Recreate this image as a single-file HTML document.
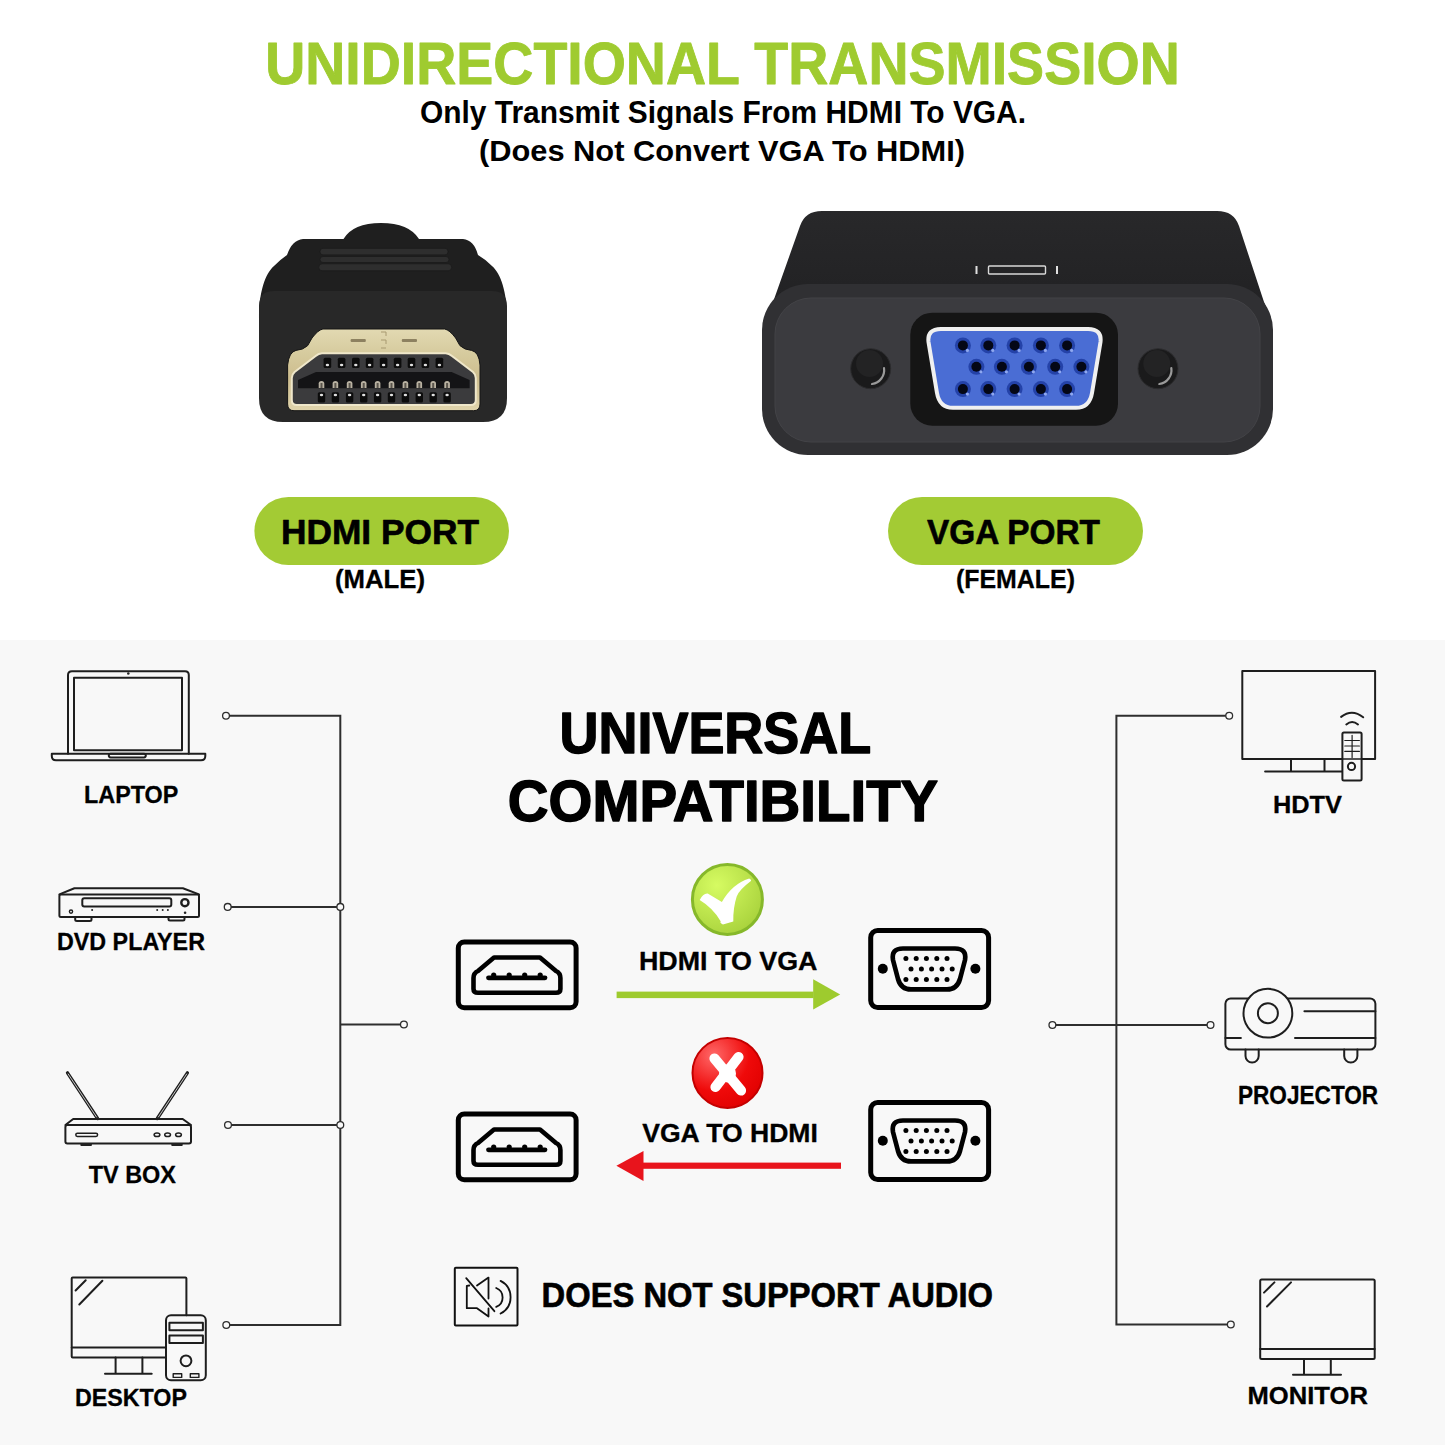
<!DOCTYPE html>
<html><head><meta charset="utf-8"><style>
html,body{margin:0;padding:0;background:#fff;}
svg{display:block;}
text{font-family:"Liberation Sans",sans-serif;font-weight:bold;}
</style></head><body>
<svg width="1445" height="1445" viewBox="0 0 1445 1445">
<defs>
  <linearGradient id="gold" x1="0" y1="0" x2="0" y2="1">
    <stop offset="0" stop-color="#e2d9b2"/>
    <stop offset="0.3" stop-color="#d6cb9e"/>
    <stop offset="0.6" stop-color="#cdbd8e"/>
    <stop offset="1" stop-color="#e0d4ac"/>
  </linearGradient>
  <linearGradient id="hdmibody" x1="0" y1="0" x2="0" y2="1">
    <stop offset="0" stop-color="#2a2a2a"/>
    <stop offset="1" stop-color="#1c1c1c"/>
  </linearGradient>
  <radialGradient id="chk" cx="0.35" cy="0.3" r="0.8">
    <stop offset="0" stop-color="#d6fb62"/>
    <stop offset="1" stop-color="#a6d03a"/>
  </radialGradient>
  <radialGradient id="xrd" cx="0.3" cy="0.25" r="0.85">
    <stop offset="0" stop-color="#ff6868"/>
    <stop offset="0.6" stop-color="#ef0a0a"/>
    <stop offset="1" stop-color="#e00000"/>
  </radialGradient>
  <linearGradient id="vgatop" x1="0" y1="0" x2="0" y2="1">
    <stop offset="0" stop-color="#28282a"/>
    <stop offset="1" stop-color="#1f1f21"/>
  </linearGradient>
</defs>
<!-- backgrounds -->
<rect x="0" y="0" width="1445" height="640" fill="#ffffff"/>
<rect x="0" y="640" width="1445" height="805" fill="#f8f8f8"/>

<!-- pills -->
<rect x="254.4" y="497" width="254.6" height="68" rx="34" fill="#a3cb34"/>
<rect x="888" y="497" width="255" height="68" rx="34" fill="#a3cb34"/>

<!-- ============ HDMI connector photo ============ -->
<g id="hdmi">
  <path d="M259,318 C259,292 265,274 274,266 Q281,259 287,255 Q292,240 303,239 L343.5,239 Q353,223 381,223 Q409,223 419,239 L463,239 Q474,240 478,255 Q485,259 492,266 C501,274 507,292 507,318 Z" fill="#1f1f1f"/>
  <rect x="320" y="248.3" width="128" height="6.6" rx="3" fill="#2e2e2e" stroke="#1a1a1a" stroke-width="0.8"/>
  <rect x="320" y="256.5" width="129" height="6" rx="3" fill="#2e2e2e" stroke="#1a1a1a" stroke-width="0.8"/>
  <rect x="318.7" y="263.8" width="133" height="7" rx="3.5" fill="#2e2e2e" stroke="#1a1a1a" stroke-width="0.8"/>
  <path d="M259,306 Q259,291 274,291 L492,291 Q507,291 507,306 L507,398 Q507,422 483,422 L283,422 Q259,422 259,398 Z" fill="#282828"/>
  <!-- gold shell -->
  <path d="M322.9,329 L444.7,329 Q449.6,330 455.6,338 L459.9,345.6 Q464.6,350 471.6,350.4 Q479,352 480,365 L480,404 Q480,410.7 473.6,410.7 L294,410.7 Q287.6,410.7 287.6,404 L287.6,365 Q289,352 296,350.4 Q303,350 307.7,345.6 L312,338 Q318,330 322.9,329 Z" fill="url(#gold)" stroke="#151515" stroke-width="1"/>
  <path d="M322,353.2 L445.6,353.2 Q449,353.2 452,356 L473,372 Q475.8,374.5 475.8,378 L475.8,400 Q475.8,405 470.8,405 L296.8,405 Q291.8,405 291.8,400 L291.8,378 Q291.8,374.5 294.6,372 L315.6,356 Q318.6,353.2 322,353.2 Z" fill="#3b3b3d" stroke="#efe7ca" stroke-width="2"/>
  <path d="M298,388.2 L298,380 L316,372 L451.6,372 L469.6,380 L469.6,388.2 Z" fill="#141416"/>
  <rect x="350.6" y="338.9" width="15.2" height="3.2" rx="1" fill="#8d8160"/>
  <rect x="401.8" y="338.9" width="15.2" height="3.2" rx="1" fill="#8d8160"/>
  <path d="M381,332 L386,332 L386,336 M381,340 L386,340 L386,344 M381,348 L386,348" fill="none" stroke="#a89a70" stroke-width="1"/>
  <g id="pinsTop" fill="#161616"></g>
</g>

<!-- ============ VGA adapter photo ============ -->
<g id="vga">
  <path d="M763,345 Q764,318 772,305 L800,226 Q805,211 822,211 L1217,211 Q1234,211 1239,226 L1264,302 Q1272,318 1273,345 Z" fill="url(#vgatop)"/>
  <rect x="762" y="284" width="511" height="171" rx="46" fill="#303033"/>
  <rect x="775" y="298" width="485" height="144" rx="36" fill="#3b3b3f" stroke="#434347" stroke-width="1"/>
  <!-- top small port -->
  <rect x="988.5" y="266" width="57" height="8" rx="1" fill="none" stroke="#d8d8d8" stroke-width="1.4"/>
  <rect x="975.5" y="266" width="2" height="8" fill="#e0e0e0"/>
  <rect x="1056" y="266" width="2" height="8" fill="#e0e0e0"/>
  <!-- recess -->
  <rect x="910.3" y="312.7" width="207.7" height="113" rx="22" fill="#151515"/>
  <path d="M941,329 L1088,329 Q1102,329 1100.5,342 L1092,393 Q1089.5,407.8 1076,407.8 L953,407.8 Q939.5,407.8 937,393 L928.5,342 Q927,329 941,329 Z" fill="#4a6dd4" stroke="#f0f0f0" stroke-width="4"/>
  <g id="vgapins"></g>
  <!-- screws -->
  <circle cx="870.7" cy="368.7" r="20" fill="#1a1a1b" stroke="#2c2c2e" stroke-width="1"/>
  <path d="M884,368 A14,14 0 0 1 872,384" fill="none" stroke="#9a9a9a" stroke-width="2.2" stroke-linecap="round"/>
  <circle cx="869.5" cy="363.5" r="13.5" fill="#232324"/>
  <circle cx="1158" cy="368.7" r="20" fill="#1a1a1b" stroke="#2c2c2e" stroke-width="1"/>
  <path d="M1171.3,368 A14,14 0 0 1 1159.3,384" fill="none" stroke="#9a9a9a" stroke-width="2.2" stroke-linecap="round"/>
  <circle cx="1156.8" cy="363.5" r="13.5" fill="#232324"/>
</g>

<rect x="323.6" y="357.7" width="7.6" height="10.4" rx="1.5" fill="#0c0c0c"/>
<ellipse cx="327.4" cy="365" rx="1.7" ry="1.2" fill="#e0e0e0"/>
<rect x="337.8" y="357.7" width="7.6" height="10.4" rx="1.5" fill="#0c0c0c"/>
<ellipse cx="341.6" cy="365" rx="1.7" ry="1.2" fill="#e0e0e0"/>
<rect x="352.0" y="357.7" width="7.6" height="10.4" rx="1.5" fill="#0c0c0c"/>
<ellipse cx="355.8" cy="365" rx="1.7" ry="1.2" fill="#e0e0e0"/>
<rect x="365.8" y="357.7" width="7.6" height="10.4" rx="1.5" fill="#0c0c0c"/>
<ellipse cx="369.6" cy="365" rx="1.7" ry="1.2" fill="#e0e0e0"/>
<rect x="379.8" y="357.7" width="7.6" height="10.4" rx="1.5" fill="#0c0c0c"/>
<ellipse cx="383.6" cy="365" rx="1.7" ry="1.2" fill="#e0e0e0"/>
<rect x="393.8" y="357.7" width="7.6" height="10.4" rx="1.5" fill="#0c0c0c"/>
<ellipse cx="397.6" cy="365" rx="1.7" ry="1.2" fill="#e0e0e0"/>
<rect x="407.7" y="357.7" width="7.6" height="10.4" rx="1.5" fill="#0c0c0c"/>
<ellipse cx="411.5" cy="365" rx="1.7" ry="1.2" fill="#e0e0e0"/>
<rect x="421.6" y="357.7" width="7.6" height="10.4" rx="1.5" fill="#0c0c0c"/>
<ellipse cx="425.4" cy="365" rx="1.7" ry="1.2" fill="#e0e0e0"/>
<rect x="435.6" y="357.7" width="7.6" height="10.4" rx="1.5" fill="#0c0c0c"/>
<ellipse cx="439.4" cy="365" rx="1.7" ry="1.2" fill="#e0e0e0"/>
<path d="M318.7,388 L318.7,383.5 Q318.7,381 321.5,381 Q324.3,381 324.3,383.5 L324.3,388 Z" fill="#b9b2a2"/>
<rect x="320.5" y="383" width="2" height="5" fill="#5a554c"/>
<path d="M332.6,388 L332.6,383.5 Q332.6,381 335.4,381 Q338.2,381 338.2,383.5 L338.2,388 Z" fill="#b9b2a2"/>
<rect x="334.4" y="383" width="2" height="5" fill="#5a554c"/>
<path d="M346.8,388 L346.8,383.5 Q346.8,381 349.6,381 Q352.4,381 352.4,383.5 L352.4,388 Z" fill="#b9b2a2"/>
<rect x="348.6" y="383" width="2" height="5" fill="#5a554c"/>
<path d="M360.9,388 L360.9,383.5 Q360.9,381 363.7,381 Q366.5,381 366.5,383.5 L366.5,388 Z" fill="#b9b2a2"/>
<rect x="362.7" y="383" width="2" height="5" fill="#5a554c"/>
<path d="M374.8,388 L374.8,383.5 Q374.8,381 377.6,381 Q380.4,381 380.4,383.5 L380.4,388 Z" fill="#b9b2a2"/>
<rect x="376.6" y="383" width="2" height="5" fill="#5a554c"/>
<path d="M388.7,388 L388.7,383.5 Q388.7,381 391.5,381 Q394.3,381 394.3,383.5 L394.3,388 Z" fill="#b9b2a2"/>
<rect x="390.5" y="383" width="2" height="5" fill="#5a554c"/>
<path d="M402.6,388 L402.6,383.5 Q402.6,381 405.4,381 Q408.2,381 408.2,383.5 L408.2,388 Z" fill="#b9b2a2"/>
<rect x="404.4" y="383" width="2" height="5" fill="#5a554c"/>
<path d="M416.5,388 L416.5,383.5 Q416.5,381 419.3,381 Q422.1,381 422.1,383.5 L422.1,388 Z" fill="#b9b2a2"/>
<rect x="418.3" y="383" width="2" height="5" fill="#5a554c"/>
<path d="M430.4,388 L430.4,383.5 Q430.4,381 433.2,381 Q436.0,381 436.0,383.5 L436.0,388 Z" fill="#b9b2a2"/>
<rect x="432.2" y="383" width="2" height="5" fill="#5a554c"/>
<path d="M444.3,388 L444.3,383.5 Q444.3,381 447.1,381 Q449.9,381 449.9,383.5 L449.9,388 Z" fill="#b9b2a2"/>
<rect x="446.1" y="383" width="2" height="5" fill="#5a554c"/>
<rect x="317.8" y="392.3" width="7.4" height="10.1" rx="1.5" fill="#0c0c0c"/>
<ellipse cx="321.5" cy="395" rx="1.7" ry="1.2" fill="#e0e0e0"/>
<rect x="331.7" y="392.3" width="7.4" height="10.1" rx="1.5" fill="#0c0c0c"/>
<ellipse cx="335.4" cy="395" rx="1.7" ry="1.2" fill="#e0e0e0"/>
<rect x="345.9" y="392.3" width="7.4" height="10.1" rx="1.5" fill="#0c0c0c"/>
<ellipse cx="349.6" cy="395" rx="1.7" ry="1.2" fill="#e0e0e0"/>
<rect x="360.0" y="392.3" width="7.4" height="10.1" rx="1.5" fill="#0c0c0c"/>
<ellipse cx="363.7" cy="395" rx="1.7" ry="1.2" fill="#e0e0e0"/>
<rect x="373.9" y="392.3" width="7.4" height="10.1" rx="1.5" fill="#0c0c0c"/>
<ellipse cx="377.6" cy="395" rx="1.7" ry="1.2" fill="#e0e0e0"/>
<rect x="387.8" y="392.3" width="7.4" height="10.1" rx="1.5" fill="#0c0c0c"/>
<ellipse cx="391.5" cy="395" rx="1.7" ry="1.2" fill="#e0e0e0"/>
<rect x="401.7" y="392.3" width="7.4" height="10.1" rx="1.5" fill="#0c0c0c"/>
<ellipse cx="405.4" cy="395" rx="1.7" ry="1.2" fill="#e0e0e0"/>
<rect x="415.6" y="392.3" width="7.4" height="10.1" rx="1.5" fill="#0c0c0c"/>
<ellipse cx="419.3" cy="395" rx="1.7" ry="1.2" fill="#e0e0e0"/>
<rect x="429.5" y="392.3" width="7.4" height="10.1" rx="1.5" fill="#0c0c0c"/>
<ellipse cx="433.2" cy="395" rx="1.7" ry="1.2" fill="#e0e0e0"/>
<rect x="443.4" y="392.3" width="7.4" height="10.1" rx="1.5" fill="#0c0c0c"/>
<ellipse cx="447.1" cy="395" rx="1.7" ry="1.2" fill="#e0e0e0"/>
<circle cx="962.9" cy="345.4" r="8" fill="#2442a8"/>
<circle cx="962.9" cy="345.4" r="5" fill="#040716"/>
<circle cx="967.4" cy="350.4" r="1.6" fill="#8fa8f0"/>
<circle cx="988.3" cy="345.4" r="8" fill="#2442a8"/>
<circle cx="988.3" cy="345.4" r="5" fill="#040716"/>
<circle cx="992.8" cy="350.4" r="1.6" fill="#8fa8f0"/>
<circle cx="1014.6" cy="345.4" r="8" fill="#2442a8"/>
<circle cx="1014.6" cy="345.4" r="5" fill="#040716"/>
<circle cx="1019.1" cy="350.4" r="1.6" fill="#8fa8f0"/>
<circle cx="1040.9" cy="345.4" r="8" fill="#2442a8"/>
<circle cx="1040.9" cy="345.4" r="5" fill="#040716"/>
<circle cx="1045.4" cy="350.4" r="1.6" fill="#8fa8f0"/>
<circle cx="1067.1" cy="345.4" r="8" fill="#2442a8"/>
<circle cx="1067.1" cy="345.4" r="5" fill="#040716"/>
<circle cx="1071.6" cy="350.4" r="1.6" fill="#8fa8f0"/>
<circle cx="976.4" cy="366.8" r="8" fill="#2442a8"/>
<circle cx="976.4" cy="366.8" r="5" fill="#040716"/>
<circle cx="980.9" cy="371.8" r="1.6" fill="#8fa8f0"/>
<circle cx="1001.9" cy="366.8" r="8" fill="#2442a8"/>
<circle cx="1001.9" cy="366.8" r="5" fill="#040716"/>
<circle cx="1006.4" cy="371.8" r="1.6" fill="#8fa8f0"/>
<circle cx="1028.9" cy="366.8" r="8" fill="#2442a8"/>
<circle cx="1028.9" cy="366.8" r="5" fill="#040716"/>
<circle cx="1033.4" cy="371.8" r="1.6" fill="#8fa8f0"/>
<circle cx="1055.2" cy="366.8" r="8" fill="#2442a8"/>
<circle cx="1055.2" cy="366.8" r="5" fill="#040716"/>
<circle cx="1059.7" cy="371.8" r="1.6" fill="#8fa8f0"/>
<circle cx="1081.4" cy="366.8" r="8" fill="#2442a8"/>
<circle cx="1081.4" cy="366.8" r="5" fill="#040716"/>
<circle cx="1085.9" cy="371.8" r="1.6" fill="#8fa8f0"/>
<circle cx="962.9" cy="389.1" r="8" fill="#2442a8"/>
<circle cx="962.9" cy="389.1" r="5" fill="#040716"/>
<circle cx="967.4" cy="394.1" r="1.6" fill="#8fa8f0"/>
<circle cx="988.3" cy="389.1" r="8" fill="#2442a8"/>
<circle cx="988.3" cy="389.1" r="5" fill="#040716"/>
<circle cx="992.8" cy="394.1" r="1.6" fill="#8fa8f0"/>
<circle cx="1014.6" cy="389.1" r="8" fill="#2442a8"/>
<circle cx="1014.6" cy="389.1" r="5" fill="#040716"/>
<circle cx="1019.1" cy="394.1" r="1.6" fill="#8fa8f0"/>
<circle cx="1040.9" cy="389.1" r="8" fill="#2442a8"/>
<circle cx="1040.9" cy="389.1" r="5" fill="#040716"/>
<circle cx="1045.4" cy="394.1" r="1.6" fill="#8fa8f0"/>
<circle cx="1067.1" cy="389.1" r="8" fill="#2442a8"/>
<circle cx="1067.1" cy="389.1" r="5" fill="#040716"/>
<circle cx="1071.6" cy="394.1" r="1.6" fill="#8fa8f0"/>
<circle cx="905.9" cy="958.6" r="2.5" fill="#000"/>
<circle cx="916.2" cy="958.6" r="2.5" fill="#000"/>
<circle cx="926.4" cy="958.6" r="2.5" fill="#000"/>
<circle cx="936.8" cy="958.6" r="2.5" fill="#000"/>
<circle cx="947" cy="958.6" r="2.5" fill="#000"/>
<circle cx="911" cy="969.0" r="2.5" fill="#000"/>
<circle cx="921.4" cy="969.0" r="2.5" fill="#000"/>
<circle cx="931.6" cy="969.0" r="2.5" fill="#000"/>
<circle cx="942" cy="969.0" r="2.5" fill="#000"/>
<circle cx="952.2" cy="969.0" r="2.5" fill="#000"/>
<circle cx="905.9" cy="979.4" r="2.5" fill="#000"/>
<circle cx="916.2" cy="979.4" r="2.5" fill="#000"/>
<circle cx="926.4" cy="979.4" r="2.5" fill="#000"/>
<circle cx="936.8" cy="979.4" r="2.5" fill="#000"/>
<circle cx="947" cy="979.4" r="2.5" fill="#000"/>
<circle cx="905.9" cy="1130.6" r="2.5" fill="#000"/>
<circle cx="916.2" cy="1130.6" r="2.5" fill="#000"/>
<circle cx="926.4" cy="1130.6" r="2.5" fill="#000"/>
<circle cx="936.8" cy="1130.6" r="2.5" fill="#000"/>
<circle cx="947" cy="1130.6" r="2.5" fill="#000"/>
<circle cx="911" cy="1141.0" r="2.5" fill="#000"/>
<circle cx="921.4" cy="1141.0" r="2.5" fill="#000"/>
<circle cx="931.6" cy="1141.0" r="2.5" fill="#000"/>
<circle cx="942" cy="1141.0" r="2.5" fill="#000"/>
<circle cx="952.2" cy="1141.0" r="2.5" fill="#000"/>
<circle cx="905.9" cy="1151.4" r="2.5" fill="#000"/>
<circle cx="916.2" cy="1151.4" r="2.5" fill="#000"/>
<circle cx="926.4" cy="1151.4" r="2.5" fill="#000"/>
<circle cx="936.8" cy="1151.4" r="2.5" fill="#000"/>
<circle cx="947" cy="1151.4" r="2.5" fill="#000"/>
<!-- ============ network lines ============ -->
<g fill="none" stroke="#2e2e2e" stroke-width="2">
  <path d="M226,715.8 L340.3,715.8 L340.3,1325 L226.3,1325"/>
  <path d="M227.7,906.9 L340.3,906.9"/>
  <path d="M340.3,1024.5 L403.9,1024.5"/>
  <path d="M228,1125 L340.3,1125"/>
  <path d="M1229.2,715.8 L1116.4,715.8 L1116.4,1324.5 L1230.8,1324.5"/>
  <path d="M1052.4,1025 L1210.5,1025"/>
</g>
<g fill="#fafafa" stroke="#2e2e2e" stroke-width="1.3">
  <circle cx="226" cy="715.8" r="3.4"/>
  <circle cx="227.7" cy="906.9" r="3.4"/>
  <circle cx="340.3" cy="906.9" r="3.4"/>
  <circle cx="403.9" cy="1024.5" r="3.4"/>
  <circle cx="228" cy="1125" r="3.4"/>
  <circle cx="340.3" cy="1125" r="3.4"/>
  <circle cx="226.3" cy="1325" r="3.4"/>
  <circle cx="1229.2" cy="715.8" r="3.4"/>
  <circle cx="1052.4" cy="1025" r="3.4"/>
  <circle cx="1210.5" cy="1025" r="3.4"/>
  <circle cx="1230.8" cy="1324.5" r="3.4"/>
</g>

<!-- ============ device icons ============ -->
<g fill="none" stroke="#1e1e1e" stroke-width="2" stroke-linejoin="round" stroke-linecap="round">
  <!-- laptop -->
  <path d="M68,753.8 L68,675 Q68,671.3 72,671.3 L185,671.3 Q188.8,671.3 188.8,675 L188.8,753.8"/>
  <rect x="74" y="677.7" width="108" height="72.6"/>
  <path d="M51.8,753.8 L205.3,753.8 L205.3,756 Q205.3,760.3 201,760.3 L56,760.3 Q51.8,760.3 51.8,756 Z"/>
  <rect x="108.8" y="753.8" width="37" height="3.6" rx="1.8"/>
  <!-- dvd -->
  <path d="M59.4,894.4 L74.4,888.3 L182.9,888.3 L199,894.4"/>
  <rect x="59.4" y="894.4" width="139.6" height="22.7" rx="1.5"/>
  <rect x="82.3" y="898.3" width="89" height="8.3" rx="2"/>
  <path d="M75.2,917.1 L75.2,919.5 Q75.2,921 77,921 L89.7,921 Q91.5,921 91.5,919.5 L91.5,917.1"/>
  <path d="M168.5,917.1 L168.5,919 Q168.5,920.5 170,920.5 L183,920.5 Q184.5,920.5 184.5,919 L184.5,917.1"/>
  <circle cx="184.9" cy="902.7" r="3.6" stroke-width="2.4"/>
  <circle cx="71" cy="911.6" r="1.6" stroke-width="1.4"/>
  <!-- tv box -->
  <path d="M67.5,1072.8 L97.6,1118.5 M187.4,1072.8 L157.3,1118.5" stroke-width="3.3"/>
  <path d="M68.2,1074 L96.5,1117 M186.7,1074 L158.4,1117" stroke="#d8d8d8" stroke-width="0.9"/>
  <path d="M65.4,1125 L73.2,1119 L182.7,1119 L191,1125"/>
  <rect x="65.4" y="1125" width="125.6" height="18.4" rx="2"/>
  <rect x="75.8" y="1133.2" width="21.8" height="3.2" rx="1.6" stroke-width="1.5"/>
  <ellipse cx="157" cy="1134.8" rx="2.9" ry="1.8" stroke-width="1.5"/>
  <ellipse cx="167.6" cy="1134.8" rx="2.9" ry="1.8" stroke-width="1.5"/>
  <ellipse cx="178.5" cy="1134.8" rx="2.9" ry="1.8" stroke-width="1.5"/>
  <!-- desktop -->
  <path d="M186.4,1315.2 L186.4,1278.6 Q186.4,1277.6 185.4,1277.6 L72.7,1277.6 Q71.7,1277.6 71.7,1278.6 L71.7,1356.6 Q71.7,1357.6 72.7,1357.6 L166,1357.6"/>
  <path d="M71.7,1347.6 L166,1347.6"/>
  <path d="M75.6,1290.5 L85.7,1280.3"/>
  <path d="M79.3,1304.5 L102.4,1280.7"/>
  <path d="M115.6,1357.6 L115.6,1373.7 M142.4,1357.6 L142.4,1373.7 M105,1373.7 L151.7,1373.7"/>
  <rect x="166" y="1315.2" width="39.8" height="65.1" rx="5"/>
  <rect x="169.4" y="1322.7" width="33.5" height="7.5"/>
  <rect x="169.4" y="1335.4" width="33.5" height="7.7"/>
  <circle cx="186" cy="1360.8" r="5.4"/>
  <rect x="173.2" y="1373.7" width="8.5" height="3.7" stroke-width="1.4"/>
  <rect x="190.3" y="1373.7" width="8.6" height="3.7" stroke-width="1.4"/>
  <!-- hdtv -->
  <rect x="1242.3" y="671.1" width="132.8" height="87.9"/>
  <path d="M1291,759 L1291,771.6 M1324.5,759 L1324.5,771.6 M1265.1,771.6 L1342.4,771.6"/>
  <rect x="1342.4" y="732.5" width="19.2" height="48.1" rx="1.5" fill="#f8f8f8"/>
  <path d="M1352.1,735.3 L1352.1,757.6 M1344.8,740.5 L1359.4,740.5 M1344.8,746 L1359.4,746 M1344.8,751.4 L1359.4,751.4" stroke-width="1.2"/>
  <path d="M1342.4,759 L1361.6,759" stroke-width="1.4"/>
  <circle cx="1351.5" cy="766.4" r="3.6"/>
  <path d="M1341.1,716.9 Q1352.1,708.5 1363.2,717.3"/>
  <path d="M1346.3,724.4 Q1352.1,719.5 1358,724.4"/>
  <!-- projector -->
  <rect x="1225.4" y="998.4" width="150" height="51.2" rx="5.3"/>
  <path d="M1304.4,1011.2 L1375.4,1011.2 M1225.4,1037.9 L1240.9,1037.9 M1295,1037.9 L1375.4,1037.9"/>
  <circle cx="1267.9" cy="1013.2" r="24.4" fill="#f8f8f8"/>
  <circle cx="1267.9" cy="1013.2" r="10"/>
  <path d="M1245.5,1049.6 L1245.5,1056 A6.6,6.6 0 0 0 1258.7,1056 L1258.7,1049.6"/>
  <path d="M1344.2,1049.6 L1344.2,1056 A6.6,6.6 0 0 0 1357.4,1056 L1357.4,1049.6"/>
  <!-- monitor -->
  <rect x="1260.2" y="1279.5" width="114.5" height="79.6" rx="1.5"/>
  <path d="M1260.2,1349 L1374.7,1349"/>
  <path d="M1264,1292.6 L1274.4,1282.4 M1267,1306.5 L1291,1282.4"/>
  <path d="M1304,1359.1 L1304,1374.8 M1330.8,1359.1 L1330.8,1374.8 M1293,1374.8 L1341,1374.8"/>
</g>
<g fill="#222">
  <rect x="80.4" y="1143" width="11.5" height="3" rx="0.8"/>
  <rect x="171.3" y="1143" width="11.4" height="3" rx="0.8"/>
  <circle cx="128.3" cy="673.5" r="1.3"/>
  <circle cx="92.1" cy="910.1" r="1"/>
  <circle cx="157.2" cy="910.1" r="1"/>
  <circle cx="162.7" cy="910.1" r="1"/>
  <circle cx="167.9" cy="910.1" r="1"/>
  <circle cx="185.1" cy="912.7" r="1.3"/>
</g>

<!-- ============ center icons ============ -->
<g fill="none" stroke="#000" stroke-width="5" stroke-linejoin="round" stroke-linecap="round">
  <rect x="458.3" y="941.9" width="117.8" height="65.9" rx="6"/>
  <path d="M494,957.5 L540,957.5 L556,971 Q560.4,973 560.4,978 L560.4,989 Q560.4,992.8 556,992.8 L478,992.8 Q473.5,992.8 473.5,989 L473.5,978 Q473.5,973 478,971 Z" stroke-width="4.6"/>
  <path d="M488.5,977.8 L545,977.8" stroke-width="4.8"/>
  <rect x="870.7" y="930.4" width="117.9" height="77.2" rx="7"/>
  <path d="M903,948.5 L955,948.5 Q967,948.5 965,960 L960,979 Q957,989.4 947,989.4 L911,989.4 Q901,989.4 898,979 L893,960 Q891,948.5 903,948.5 Z" stroke-width="4.7"/>
</g>
<g fill="#000">
  <circle cx="493.7" cy="975" r="2.6"/><circle cx="509.2" cy="975" r="2.6"/><circle cx="524.7" cy="975" r="2.6"/><circle cx="540.2" cy="975" r="2.6"/>
  <circle cx="882.8" cy="968.8" r="5"/><circle cx="975.4" cy="968.8" r="5"/>
  <g id="vgadots1"></g>
</g>
<!-- lower pair -->
<g transform="translate(0,172)">
<g fill="none" stroke="#000" stroke-width="5" stroke-linejoin="round" stroke-linecap="round">
  <rect x="458.3" y="941.9" width="117.8" height="65.9" rx="6"/>
  <path d="M494,957.5 L540,957.5 L556,971 Q560.4,973 560.4,978 L560.4,989 Q560.4,992.8 556,992.8 L478,992.8 Q473.5,992.8 473.5,989 L473.5,978 Q473.5,973 478,971 Z" stroke-width="4.6"/>
  <path d="M488.5,977.8 L545,977.8" stroke-width="4.8"/>
  <rect x="870.7" y="930.4" width="117.9" height="77.2" rx="7"/>
  <path d="M903,948.5 L955,948.5 Q967,948.5 965,960 L960,979 Q957,989.4 947,989.4 L911,989.4 Q901,989.4 898,979 L893,960 Q891,948.5 903,948.5 Z" stroke-width="4.7"/>
</g>
<g fill="#000">
  <circle cx="493.7" cy="975" r="2.6"/><circle cx="509.2" cy="975" r="2.6"/><circle cx="524.7" cy="975" r="2.6"/><circle cx="540.2" cy="975" r="2.6"/>
  <circle cx="882.8" cy="968.8" r="5"/><circle cx="975.4" cy="968.8" r="5"/>
  <g id="vgadots2"></g>
</g>
</g>

<!-- arrows -->
<rect x="616.6" y="991.6" width="197" height="6.5" fill="#9ecb2e"/>
<path d="M813.2,979.2 L840.2,994.5 L813.2,1009.6 Z" fill="#9ecb2e"/>
<rect x="641.5" y="1162.6" width="199.5" height="6.2" fill="#e8141c"/>
<path d="M643.5,1150.9 L616.4,1165.7 L643.5,1181 Z" fill="#e8141c"/>

<!-- check badge -->
<circle cx="727.4" cy="899.4" r="35" fill="url(#chk)" stroke="#86b82a" stroke-width="3"/>
<path d="M699.7,900 Q703,893 707.7,893.4 L721.9,902 Q732,884 749.2,878.5 Q752,880 750.6,881.3 Q739,890 736.7,896.5 Q733,908 733.3,921.4 L722.9,924.5 Q719,922 720.8,921.4 Q713,908 699.7,900 Z" fill="#fff"/>
<!-- x badge -->
<circle cx="727.5" cy="1072.9" r="35" fill="url(#xrd)" stroke="#c40000" stroke-width="2"/>
<path d="M714.5,1058.5 L741,1090.5 M738.5,1057 L715.5,1087" stroke="#fff" stroke-width="10.2" stroke-linecap="round"/>
<ellipse cx="727.5" cy="1073.5" rx="8.5" ry="9" fill="#fff"/>

<!-- audio icon -->
<g fill="none" stroke="#111" stroke-width="2" stroke-linejoin="round" stroke-linecap="round">
  <rect x="454.8" y="1267.8" width="62.7" height="57.7" rx="1"/>
  <path d="M469.3,1285.5 L466.8,1285.8 L466.8,1308.2 L477,1308.2 L488.5,1316.5 L488.5,1308.5" stroke-width="1.8"/>
  <path d="M477,1285.6 L488.5,1277.6 L488.5,1298.5" stroke-width="1.8"/>
  <path d="M466.2,1278.2 L494.4,1311.2" stroke-width="1.8"/>
  <path d="M496.2,1288 A10.1,10.1 0 0 1 496.2,1306.8" stroke-width="1.8"/>
  <path d="M500.6,1280.9 A18.3,18.3 0 0 1 500.6,1313.5" stroke-width="1.8"/>
</g>

<text x="265.17" y="84.36" font-size="58.89" textLength="914.65" lengthAdjust="spacingAndGlyphs" fill="#9fcb30" stroke="#9fcb30" stroke-width="0.88" stroke-linejoin="round">UNIDIRECTIONAL TRANSMISSION</text>
<text x="420.00" y="122.90" font-size="32.12" textLength="606.01" lengthAdjust="spacingAndGlyphs" fill="#000" stroke="#000" stroke-width="0.00" stroke-linejoin="round">Only Transmit Signals From HDMI To VGA.</text>
<text x="478.98" y="161.00" font-size="29.94" textLength="486.04" lengthAdjust="spacingAndGlyphs" fill="#000" stroke="#000" stroke-width="0.00" stroke-linejoin="round">(Does Not Convert VGA To HDMI)</text>
<text x="280.98" y="543.88" font-size="35.13" textLength="198.00" lengthAdjust="spacingAndGlyphs" fill="#000" stroke="#000" stroke-width="0.63" stroke-linejoin="round">HDMI PORT</text>
<text x="334.98" y="588.35" font-size="25.00" textLength="90.00" lengthAdjust="spacingAndGlyphs" fill="#000" stroke="#000" stroke-width="0.30" stroke-linejoin="round">(MALE)</text>
<text x="927.00" y="543.88" font-size="35.13" textLength="173.00" lengthAdjust="spacingAndGlyphs" fill="#000" stroke="#000" stroke-width="0.63" stroke-linejoin="round">VGA PORT</text>
<text x="955.98" y="588.35" font-size="25.00" textLength="119.00" lengthAdjust="spacingAndGlyphs" fill="#000" stroke="#000" stroke-width="0.30" stroke-linejoin="round">(FEMALE)</text>
<text x="84.03" y="803.05" font-size="24.71" textLength="94.27" lengthAdjust="spacingAndGlyphs" fill="#000" stroke="#000" stroke-width="0.30" stroke-linejoin="round">LAPTOP</text>
<text x="56.97" y="949.85" font-size="24.29" textLength="148.00" lengthAdjust="spacingAndGlyphs" fill="#000" stroke="#000" stroke-width="0.29" stroke-linejoin="round">DVD PLAYER</text>
<text x="88.78" y="1182.85" font-size="24.29" textLength="87.20" lengthAdjust="spacingAndGlyphs" fill="#000" stroke="#000" stroke-width="0.29" stroke-linejoin="round">TV BOX</text>
<text x="74.96" y="1406.35" font-size="24.29" textLength="112.00" lengthAdjust="spacingAndGlyphs" fill="#000" stroke="#000" stroke-width="0.29" stroke-linejoin="round">DESKTOP</text>
<text x="1272.93" y="812.65" font-size="24.43" textLength="69.00" lengthAdjust="spacingAndGlyphs" fill="#000" stroke="#000" stroke-width="0.29" stroke-linejoin="round">HDTV</text>
<text x="1237.99" y="1104.05" font-size="25.00" textLength="140.22" lengthAdjust="spacingAndGlyphs" fill="#000" stroke="#000" stroke-width="0.30" stroke-linejoin="round">PROJECTOR</text>
<text x="1247.53" y="1404.36" font-size="24.14" textLength="120.40" lengthAdjust="spacingAndGlyphs" fill="#000" stroke="#000" stroke-width="0.29" stroke-linejoin="round">MONITOR</text>
<text x="559.54" y="753.19" font-size="56.94" textLength="311.63" lengthAdjust="spacingAndGlyphs" fill="#000" stroke="#000" stroke-width="1.42" stroke-linejoin="round">UNIVERSAL</text>
<text x="507.77" y="820.79" font-size="56.52" textLength="430.49" lengthAdjust="spacingAndGlyphs" fill="#000" stroke="#000" stroke-width="1.41" stroke-linejoin="round">COMPATIBILITY</text>
<text x="638.95" y="970.45" font-size="25.14" textLength="178.54" lengthAdjust="spacingAndGlyphs" fill="#000" stroke="#000" stroke-width="0.30" stroke-linejoin="round">HDMI TO VGA</text>
<text x="642.19" y="1142.15" font-size="24.86" textLength="175.66" lengthAdjust="spacingAndGlyphs" fill="#000" stroke="#000" stroke-width="0.30" stroke-linejoin="round">VGA TO HDMI</text>
<text x="541.58" y="1307.39" font-size="34.99" textLength="451.40" lengthAdjust="spacingAndGlyphs" fill="#000" stroke="#000" stroke-width="0.63" stroke-linejoin="round">DOES NOT SUPPORT AUDIO</text>
</svg>
</body></html>
